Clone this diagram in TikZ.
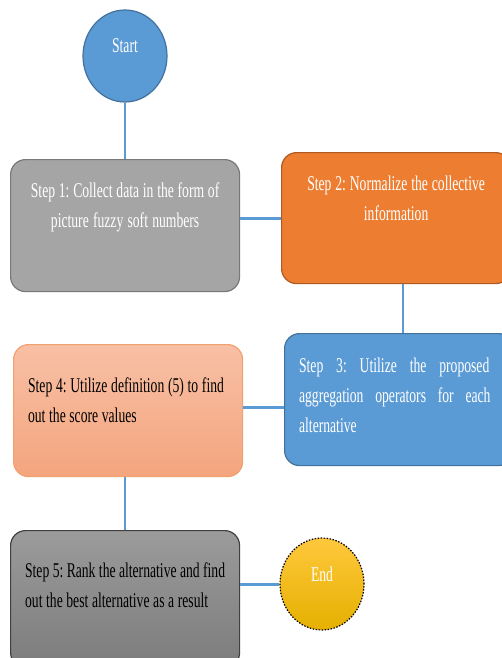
\documentclass[tikz,border=0pt]{standalone}
\usepackage{fontspec}
\newfontfamily\stepfont[FakeStretch=0.65]{Liberation Serif}
\newcommand{\stepsize}{\stepfont\fontsize{21}{30}\selectfont\frenchspacing}
\newcommand{\tightspace}{\spaceskip=3.6pt plus 1pt minus 1pt\xspaceskip=3.6pt}
\newcommand{\leftpar}{\raggedright\tightspace}
\newcommand{\fullpar}{\leftskip=0pt\rightskip=0pt\parfillskip=0pt plus 1fil\spaceskip=3.6pt plus 40pt minus 1pt\xspaceskip=3.6pt}
\usepackage{xcolor}
\definecolor{startblue}{RGB}{91,155,213}
\definecolor{edgeblue}{RGB}{65,113,156}
\definecolor{stepgray}{RGB}{165,165,165}
\definecolor{edgegray}{RGB}{120,120,120}
\definecolor{steporange}{RGB}{237,125,49}
\definecolor{edgeorange}{RGB}{174,90,33}
\definecolor{salmontop}{RGB}{248,192,165}
\definecolor{salmonbottom}{RGB}{244,165,126}
\definecolor{edgesalmon}{RGB}{241,160,110}
\definecolor{darkgraytop}{RGB}{155,155,155}
\definecolor{darkgraybottom}{RGB}{124,124,124}
\definecolor{edgedark}{RGB}{64,64,64}
\definecolor{goldtop}{RGB}{255,200,61}
\definecolor{goldmid}{RGB}{255,192,0}
\definecolor{goldbottom}{RGB}{229,176,0}
\usepackage{tikz}
\usetikzlibrary{shapes.geometric}
\hyphenpenalty=10000
\newcommand{\widthstep}{229pt}
\newcommand{\widthtext}{200pt}
\tikzset{
    common/.style={draw, line width=1.2pt, inner sep=0pt, font=\stepsize},
    stepbox/.style={common, rectangle, rounded corners=15pt, anchor=north west, minimum width=\widthstep, text width=\widthtext},
    terminal/.style={common, ellipse, minimum width=84pt, minimum height=92pt, text=white, text height=10pt, text depth=16pt},
    link/.style={draw=startblue, line width=2pt},
    thicklink/.style={link, line width=3pt}
}

\begin{document}
\begin{tikzpicture}[x=1pt, y=-1pt]
    \path[use as bounding box, clip] (0,0) rectangle (502,658);

    \path
        (125,56) node[terminal, fill=startblue, draw=edgeblue] (start) {Start}
        (10,159) node[stepbox, align=center, fill=stepgray, draw=edgegray, text=white, text height=38pt, text depth=94pt] (S1) {\tightspace Step 1: Collect data in the form of\\\tightspace picture fuzzy soft numbers}
        (281,152) node[stepbox, align=center, fill=steporange, draw=edgeorange, text=white, text height=38pt, text depth=93pt] (S2) {\tightspace Step 2: Normalize the collective\\\tightspace information}
        (284,333) node[stepbox, fill=startblue, draw=edgeblue, text=white, text height=39pt, text depth=93pt] (S3) {\fullpar Step 3: Utilize the proposed aggregation operators for each alternative}
        (13,344) node[stepbox, top color=salmontop, bottom color=salmonbottom, draw=edgesalmon, text height=48pt, text depth=84pt] (S4) {\leftpar Step 4: Utilize definition (5) to find out the score values}
        (10,530) node[stepbox, top color=darkgraytop, bottom color=darkgraybottom, draw=edgedark, text height=47pt, text depth=90pt] (S5) {\leftpar Step 5: Rank the alternative and find out the best alternative as a result}
        (322,584) node[terminal, top color=goldtop, middle color=goldmid, bottom color=goldbottom, draw=black, dash pattern=on 1.5pt off 1.5pt] (stop) {End};

    \draw[link] (start.south) -- (start.south |- S1.north);
    \draw[thicklink] (S2.west -| S1.east) -- (S2.west);
    \draw[link] ([xshift=6.5pt]S2.south) -- ([xshift=6.5pt]S2.south |- S3.north);
    \draw[thicklink] ([yshift=3pt]S4.east) -- ([yshift=3pt]S4.east -| S3.west);
    \draw[link] (S4.south -| S5.north) -- (S5.north);
    \draw[thicklink] (stop.west -| S5.east) -- (stop.west);
\end{tikzpicture}
\end{document}
